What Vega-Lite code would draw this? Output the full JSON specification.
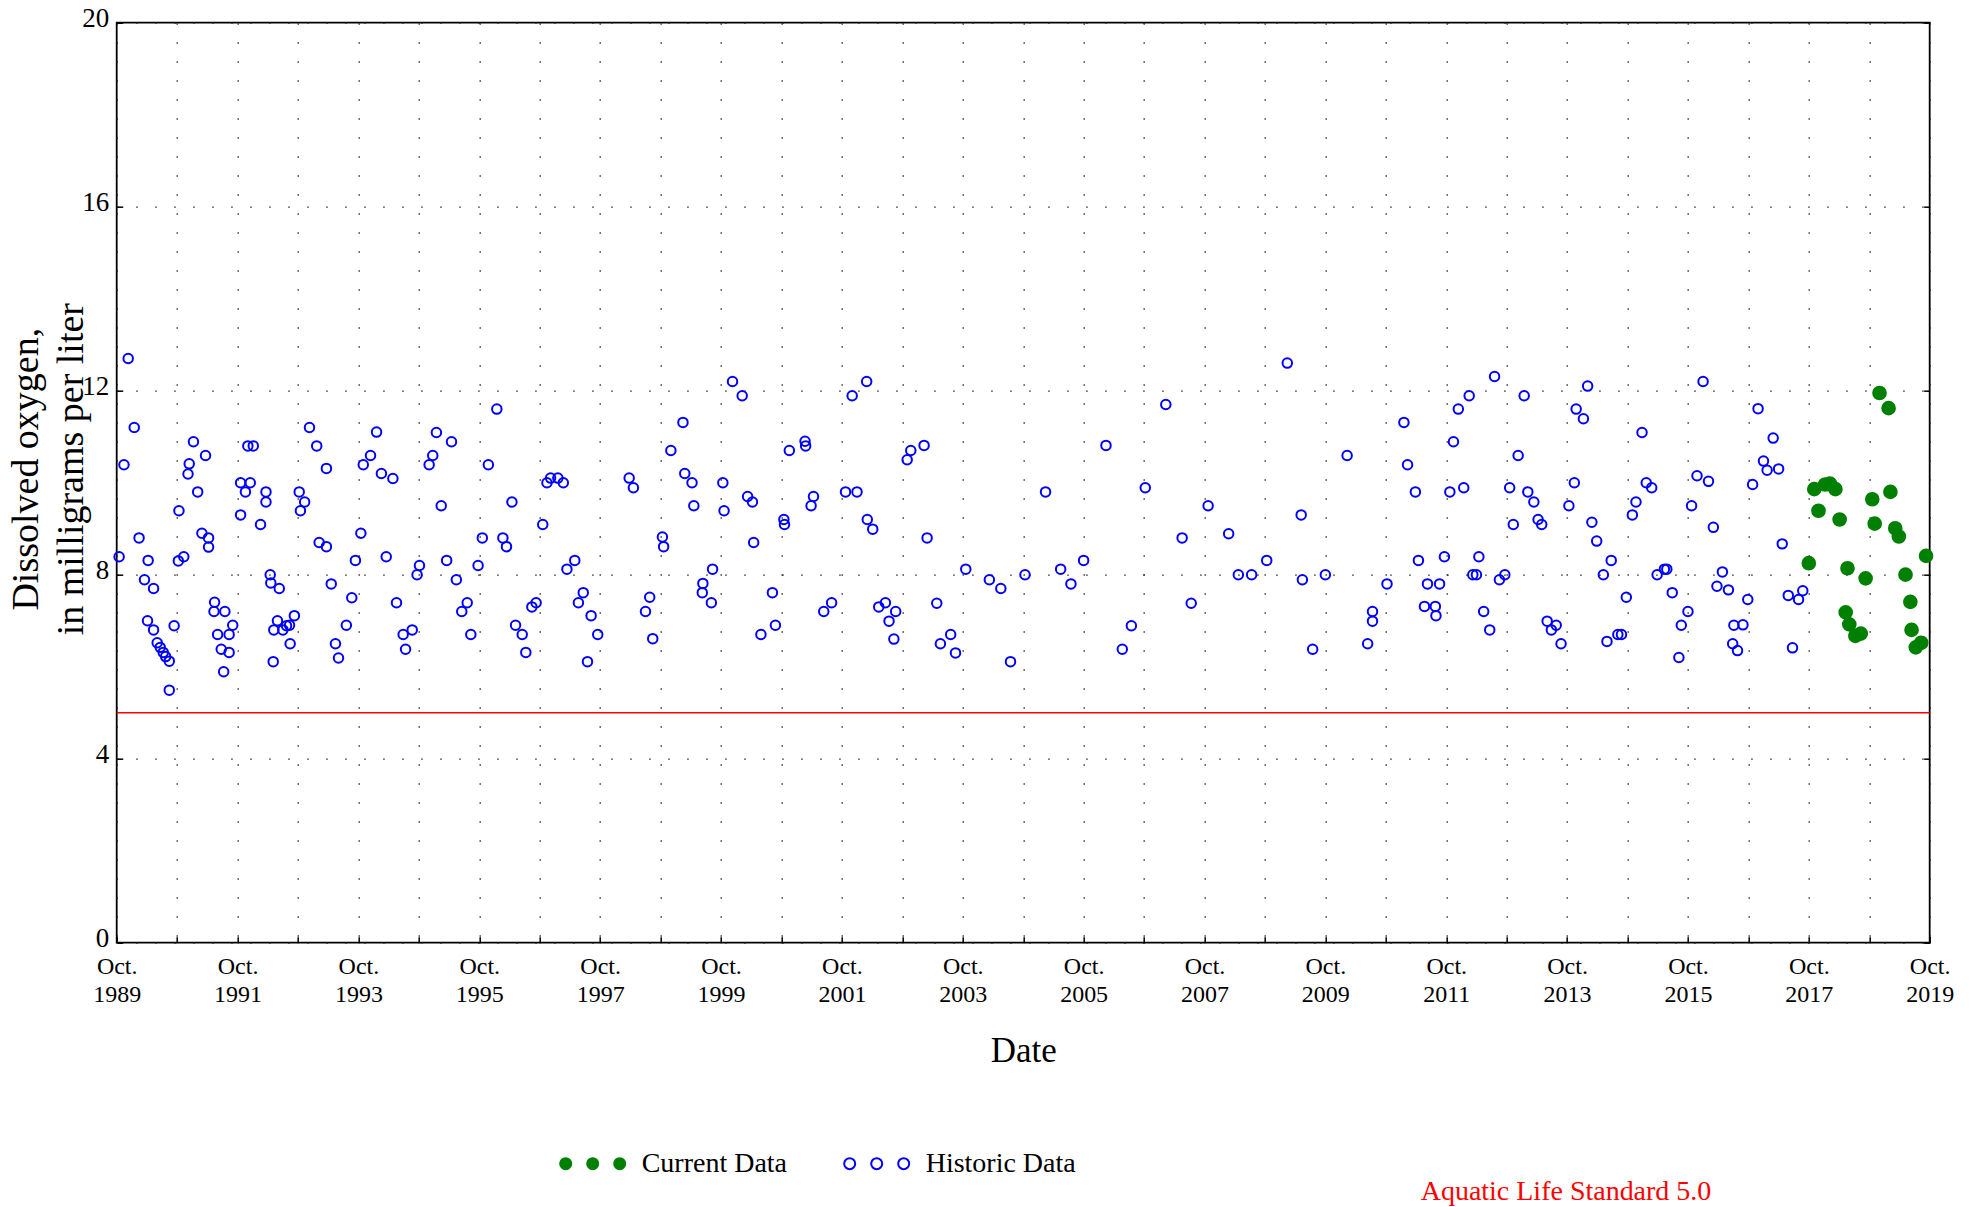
{
  "$schema": "https://vega.github.io/schema/vega-lite/v6.json",
  "width": 1813,
  "height": 920,
  "autosize": "none",
  "padding": {"left": 116.7, "top": 22.7, "right": 48, "bottom": 264},
  "background": "white",
  "config": {
    "font": "Liberation Serif",
    "view": {"stroke": "#000", "strokeWidth": 1.8},
    "axis": {"labelColor": "#000", "titleColor": "#000", "titleFontWeight": "normal", "tickColor": "#000", "tickWidth": 1.5, "gridColor": "#222", "gridWidth": 1.3, "gridOpacity": 1, "gridDash": [1.5, 17.5], "domain": false},
    "legend": {"labelColor": "#000"}
  },
  "datasets": {
    "obs": [
      {"year":1989.79,"oxygen":8.39,"series":"Historic Data"},
      {"year":1989.87,"oxygen":10.39,"series":"Historic Data"},
      {"year":1989.94,"oxygen":12.7,"series":"Historic Data"},
      {"year":1990.04,"oxygen":11.2,"series":"Historic Data"},
      {"year":1990.12,"oxygen":8.8,"series":"Historic Data"},
      {"year":1990.21,"oxygen":7.89,"series":"Historic Data"},
      {"year":1990.27,"oxygen":8.31,"series":"Historic Data"},
      {"year":1990.26,"oxygen":7.0,"series":"Historic Data"},
      {"year":1990.36,"oxygen":7.7,"series":"Historic Data"},
      {"year":1990.36,"oxygen":6.8,"series":"Historic Data"},
      {"year":1990.42,"oxygen":6.52,"series":"Historic Data"},
      {"year":1990.47,"oxygen":6.42,"series":"Historic Data"},
      {"year":1990.52,"oxygen":6.31,"series":"Historic Data"},
      {"year":1990.56,"oxygen":6.22,"series":"Historic Data"},
      {"year":1990.62,"oxygen":6.12,"series":"Historic Data"},
      {"year":1990.62,"oxygen":5.49,"series":"Historic Data"},
      {"year":1990.7,"oxygen":6.89,"series":"Historic Data"},
      {"year":1990.78,"oxygen":9.39,"series":"Historic Data"},
      {"year":1990.77,"oxygen":8.3,"series":"Historic Data"},
      {"year":1990.86,"oxygen":8.39,"series":"Historic Data"},
      {"year":1990.93,"oxygen":10.19,"series":"Historic Data"},
      {"year":1990.95,"oxygen":10.41,"series":"Historic Data"},
      {"year":1991.02,"oxygen":10.89,"series":"Historic Data"},
      {"year":1991.09,"oxygen":9.8,"series":"Historic Data"},
      {"year":1991.16,"oxygen":8.9,"series":"Historic Data"},
      {"year":1991.22,"oxygen":10.59,"series":"Historic Data"},
      {"year":1991.27,"oxygen":8.8,"series":"Historic Data"},
      {"year":1991.27,"oxygen":8.6,"series":"Historic Data"},
      {"year":1991.37,"oxygen":7.4,"series":"Historic Data"},
      {"year":1991.36,"oxygen":7.2,"series":"Historic Data"},
      {"year":1991.54,"oxygen":7.2,"series":"Historic Data"},
      {"year":1991.42,"oxygen":6.7,"series":"Historic Data"},
      {"year":1991.48,"oxygen":6.38,"series":"Historic Data"},
      {"year":1991.52,"oxygen":5.89,"series":"Historic Data"},
      {"year":1991.61,"oxygen":6.7,"series":"Historic Data"},
      {"year":1991.61,"oxygen":6.31,"series":"Historic Data"},
      {"year":1991.67,"oxygen":6.9,"series":"Historic Data"},
      {"year":1991.8,"oxygen":10.0,"series":"Historic Data"},
      {"year":1991.8,"oxygen":9.3,"series":"Historic Data"},
      {"year":1991.88,"oxygen":9.8,"series":"Historic Data"},
      {"year":1991.96,"oxygen":10.0,"series":"Historic Data"},
      {"year":1991.92,"oxygen":10.8,"series":"Historic Data"},
      {"year":1992.01,"oxygen":10.8,"series":"Historic Data"},
      {"year":1992.13,"oxygen":9.09,"series":"Historic Data"},
      {"year":1992.22,"oxygen":9.8,"series":"Historic Data"},
      {"year":1992.22,"oxygen":9.58,"series":"Historic Data"},
      {"year":1992.29,"oxygen":8.0,"series":"Historic Data"},
      {"year":1992.3,"oxygen":7.82,"series":"Historic Data"},
      {"year":1992.44,"oxygen":7.7,"series":"Historic Data"},
      {"year":1992.41,"oxygen":7.0,"series":"Historic Data"},
      {"year":1992.35,"oxygen":6.8,"series":"Historic Data"},
      {"year":1992.5,"oxygen":6.8,"series":"Historic Data"},
      {"year":1992.56,"oxygen":6.89,"series":"Historic Data"},
      {"year":1992.61,"oxygen":6.9,"series":"Historic Data"},
      {"year":1992.69,"oxygen":7.11,"series":"Historic Data"},
      {"year":1992.62,"oxygen":6.5,"series":"Historic Data"},
      {"year":1992.34,"oxygen":6.11,"series":"Historic Data"},
      {"year":1992.77,"oxygen":9.8,"series":"Historic Data"},
      {"year":1992.86,"oxygen":9.58,"series":"Historic Data"},
      {"year":1992.79,"oxygen":9.39,"series":"Historic Data"},
      {"year":1992.94,"oxygen":11.2,"series":"Historic Data"},
      {"year":1993.06,"oxygen":10.8,"series":"Historic Data"},
      {"year":1993.22,"oxygen":10.31,"series":"Historic Data"},
      {"year":1993.1,"oxygen":8.7,"series":"Historic Data"},
      {"year":1993.22,"oxygen":8.61,"series":"Historic Data"},
      {"year":1993.3,"oxygen":7.8,"series":"Historic Data"},
      {"year":1993.37,"oxygen":6.5,"series":"Historic Data"},
      {"year":1993.42,"oxygen":6.19,"series":"Historic Data"},
      {"year":1993.55,"oxygen":6.9,"series":"Historic Data"},
      {"year":1993.64,"oxygen":7.5,"series":"Historic Data"},
      {"year":1993.7,"oxygen":8.31,"series":"Historic Data"},
      {"year":1993.79,"oxygen":8.9,"series":"Historic Data"},
      {"year":1993.83,"oxygen":10.39,"series":"Historic Data"},
      {"year":1993.95,"oxygen":10.59,"series":"Historic Data"},
      {"year":1994.05,"oxygen":11.1,"series":"Historic Data"},
      {"year":1994.13,"oxygen":10.2,"series":"Historic Data"},
      {"year":1994.32,"oxygen":10.09,"series":"Historic Data"},
      {"year":1994.21,"oxygen":8.39,"series":"Historic Data"},
      {"year":1994.38,"oxygen":7.39,"series":"Historic Data"},
      {"year":1994.49,"oxygen":6.7,"series":"Historic Data"},
      {"year":1994.53,"oxygen":6.38,"series":"Historic Data"},
      {"year":1994.64,"oxygen":6.8,"series":"Historic Data"},
      {"year":1994.76,"oxygen":8.2,"series":"Historic Data"},
      {"year":1994.72,"oxygen":8.0,"series":"Historic Data"},
      {"year":1994.92,"oxygen":10.39,"series":"Historic Data"},
      {"year":1994.98,"oxygen":10.59,"series":"Historic Data"},
      {"year":1995.04,"oxygen":11.09,"series":"Historic Data"},
      {"year":1995.12,"oxygen":9.5,"series":"Historic Data"},
      {"year":1995.21,"oxygen":8.31,"series":"Historic Data"},
      {"year":1995.29,"oxygen":10.89,"series":"Historic Data"},
      {"year":1995.37,"oxygen":7.89,"series":"Historic Data"},
      {"year":1995.55,"oxygen":7.39,"series":"Historic Data"},
      {"year":1995.46,"oxygen":7.2,"series":"Historic Data"},
      {"year":1995.61,"oxygen":6.7,"series":"Historic Data"},
      {"year":1995.73,"oxygen":8.2,"series":"Historic Data"},
      {"year":1995.8,"oxygen":8.8,"series":"Historic Data"},
      {"year":1995.9,"oxygen":10.39,"series":"Historic Data"},
      {"year":1996.04,"oxygen":11.6,"series":"Historic Data"},
      {"year":1996.14,"oxygen":8.8,"series":"Historic Data"},
      {"year":1996.2,"oxygen":8.61,"series":"Historic Data"},
      {"year":1996.29,"oxygen":9.58,"series":"Historic Data"},
      {"year":1996.35,"oxygen":6.9,"series":"Historic Data"},
      {"year":1996.46,"oxygen":6.7,"series":"Historic Data"},
      {"year":1996.52,"oxygen":6.31,"series":"Historic Data"},
      {"year":1996.62,"oxygen":7.3,"series":"Historic Data"},
      {"year":1996.69,"oxygen":7.39,"series":"Historic Data"},
      {"year":1996.8,"oxygen":9.09,"series":"Historic Data"},
      {"year":1996.87,"oxygen":10.0,"series":"Historic Data"},
      {"year":1996.93,"oxygen":10.1,"series":"Historic Data"},
      {"year":1997.05,"oxygen":10.1,"series":"Historic Data"},
      {"year":1997.14,"oxygen":10.0,"series":"Historic Data"},
      {"year":1997.2,"oxygen":8.12,"series":"Historic Data"},
      {"year":1997.33,"oxygen":8.31,"series":"Historic Data"},
      {"year":1997.47,"oxygen":7.61,"series":"Historic Data"},
      {"year":1997.39,"oxygen":7.39,"series":"Historic Data"},
      {"year":1997.6,"oxygen":7.11,"series":"Historic Data"},
      {"year":1997.71,"oxygen":6.7,"series":"Historic Data"},
      {"year":1997.54,"oxygen":6.11,"series":"Historic Data"},
      {"year":1998.23,"oxygen":10.1,"series":"Historic Data"},
      {"year":1998.3,"oxygen":9.89,"series":"Historic Data"},
      {"year":1998.57,"oxygen":7.51,"series":"Historic Data"},
      {"year":1998.5,"oxygen":7.2,"series":"Historic Data"},
      {"year":1998.62,"oxygen":6.61,"series":"Historic Data"},
      {"year":1998.78,"oxygen":8.82,"series":"Historic Data"},
      {"year":1998.8,"oxygen":8.61,"series":"Historic Data"},
      {"year":1998.92,"oxygen":10.7,"series":"Historic Data"},
      {"year":1999.12,"oxygen":11.31,"series":"Historic Data"},
      {"year":1999.15,"oxygen":10.2,"series":"Historic Data"},
      {"year":1999.27,"oxygen":10.0,"series":"Historic Data"},
      {"year":1999.3,"oxygen":9.5,"series":"Historic Data"},
      {"year":1999.45,"oxygen":7.81,"series":"Historic Data"},
      {"year":1999.44,"oxygen":7.61,"series":"Historic Data"},
      {"year":1999.61,"oxygen":8.12,"series":"Historic Data"},
      {"year":1999.59,"oxygen":7.39,"series":"Historic Data"},
      {"year":1999.78,"oxygen":10.0,"series":"Historic Data"},
      {"year":1999.8,"oxygen":9.39,"series":"Historic Data"},
      {"year":1999.94,"oxygen":12.2,"series":"Historic Data"},
      {"year":2000.1,"oxygen":11.89,"series":"Historic Data"},
      {"year":2000.19,"oxygen":9.7,"series":"Historic Data"},
      {"year":2000.27,"oxygen":9.58,"series":"Historic Data"},
      {"year":2000.29,"oxygen":8.7,"series":"Historic Data"},
      {"year":2000.6,"oxygen":7.61,"series":"Historic Data"},
      {"year":2000.65,"oxygen":6.9,"series":"Historic Data"},
      {"year":2000.41,"oxygen":6.7,"series":"Historic Data"},
      {"year":2000.79,"oxygen":9.2,"series":"Historic Data"},
      {"year":2000.8,"oxygen":9.09,"series":"Historic Data"},
      {"year":2000.88,"oxygen":10.7,"series":"Historic Data"},
      {"year":2001.14,"oxygen":10.9,"series":"Historic Data"},
      {"year":2001.15,"oxygen":10.8,"series":"Historic Data"},
      {"year":2001.28,"oxygen":9.7,"series":"Historic Data"},
      {"year":2001.24,"oxygen":9.5,"series":"Historic Data"},
      {"year":2001.45,"oxygen":7.2,"series":"Historic Data"},
      {"year":2001.58,"oxygen":7.39,"series":"Historic Data"},
      {"year":2001.81,"oxygen":9.8,"series":"Historic Data"},
      {"year":2002.0,"oxygen":9.8,"series":"Historic Data"},
      {"year":2001.92,"oxygen":11.89,"series":"Historic Data"},
      {"year":2002.16,"oxygen":12.2,"series":"Historic Data"},
      {"year":2002.17,"oxygen":9.2,"series":"Historic Data"},
      {"year":2002.26,"oxygen":8.99,"series":"Historic Data"},
      {"year":2002.36,"oxygen":7.3,"series":"Historic Data"},
      {"year":2002.47,"oxygen":7.39,"series":"Historic Data"},
      {"year":2002.64,"oxygen":7.2,"series":"Historic Data"},
      {"year":2002.53,"oxygen":6.99,"series":"Historic Data"},
      {"year":2002.61,"oxygen":6.6,"series":"Historic Data"},
      {"year":2002.83,"oxygen":10.5,"series":"Historic Data"},
      {"year":2002.89,"oxygen":10.7,"series":"Historic Data"},
      {"year":2003.11,"oxygen":10.81,"series":"Historic Data"},
      {"year":2003.16,"oxygen":8.8,"series":"Historic Data"},
      {"year":2003.32,"oxygen":7.38,"series":"Historic Data"},
      {"year":2003.38,"oxygen":6.5,"series":"Historic Data"},
      {"year":2003.55,"oxygen":6.7,"series":"Historic Data"},
      {"year":2003.63,"oxygen":6.3,"series":"Historic Data"},
      {"year":2003.8,"oxygen":8.12,"series":"Historic Data"},
      {"year":2004.19,"oxygen":7.89,"series":"Historic Data"},
      {"year":2004.38,"oxygen":7.7,"series":"Historic Data"},
      {"year":2004.54,"oxygen":6.11,"series":"Historic Data"},
      {"year":2004.78,"oxygen":8.0,"series":"Historic Data"},
      {"year":2005.12,"oxygen":9.8,"series":"Historic Data"},
      {"year":2005.37,"oxygen":8.12,"series":"Historic Data"},
      {"year":2005.54,"oxygen":7.8,"series":"Historic Data"},
      {"year":2005.75,"oxygen":8.31,"series":"Historic Data"},
      {"year":2006.12,"oxygen":10.81,"series":"Historic Data"},
      {"year":2006.54,"oxygen":6.89,"series":"Historic Data"},
      {"year":2006.39,"oxygen":6.38,"series":"Historic Data"},
      {"year":2006.77,"oxygen":9.89,"series":"Historic Data"},
      {"year":2007.11,"oxygen":11.7,"series":"Historic Data"},
      {"year":2007.38,"oxygen":8.8,"series":"Historic Data"},
      {"year":2007.53,"oxygen":7.38,"series":"Historic Data"},
      {"year":2007.81,"oxygen":9.5,"series":"Historic Data"},
      {"year":2008.15,"oxygen":8.89,"series":"Historic Data"},
      {"year":2008.31,"oxygen":8.0,"series":"Historic Data"},
      {"year":2008.53,"oxygen":8.0,"series":"Historic Data"},
      {"year":2008.78,"oxygen":8.31,"series":"Historic Data"},
      {"year":2009.12,"oxygen":12.6,"series":"Historic Data"},
      {"year":2009.35,"oxygen":9.3,"series":"Historic Data"},
      {"year":2009.37,"oxygen":7.89,"series":"Historic Data"},
      {"year":2009.54,"oxygen":6.38,"series":"Historic Data"},
      {"year":2009.75,"oxygen":8.0,"series":"Historic Data"},
      {"year":2010.11,"oxygen":10.59,"series":"Historic Data"},
      {"year":2010.45,"oxygen":6.5,"series":"Historic Data"},
      {"year":2010.53,"oxygen":7.2,"series":"Historic Data"},
      {"year":2010.53,"oxygen":6.99,"series":"Historic Data"},
      {"year":2010.77,"oxygen":7.8,"series":"Historic Data"},
      {"year":2011.05,"oxygen":11.31,"series":"Historic Data"},
      {"year":2011.11,"oxygen":10.39,"series":"Historic Data"},
      {"year":2011.24,"oxygen":9.8,"series":"Historic Data"},
      {"year":2011.29,"oxygen":8.31,"series":"Historic Data"},
      {"year":2011.39,"oxygen":7.31,"series":"Historic Data"},
      {"year":2011.44,"oxygen":7.8,"series":"Historic Data"},
      {"year":2011.57,"oxygen":7.31,"series":"Historic Data"},
      {"year":2011.58,"oxygen":7.11,"series":"Historic Data"},
      {"year":2011.64,"oxygen":7.8,"series":"Historic Data"},
      {"year":2011.72,"oxygen":8.39,"series":"Historic Data"},
      {"year":2011.81,"oxygen":9.8,"series":"Historic Data"},
      {"year":2011.87,"oxygen":10.89,"series":"Historic Data"},
      {"year":2011.95,"oxygen":11.6,"series":"Historic Data"},
      {"year":2012.04,"oxygen":9.89,"series":"Historic Data"},
      {"year":2012.13,"oxygen":11.89,"series":"Historic Data"},
      {"year":2012.19,"oxygen":8.0,"series":"Historic Data"},
      {"year":2012.25,"oxygen":8.0,"series":"Historic Data"},
      {"year":2012.29,"oxygen":8.39,"series":"Historic Data"},
      {"year":2012.37,"oxygen":7.2,"series":"Historic Data"},
      {"year":2012.47,"oxygen":6.8,"series":"Historic Data"},
      {"year":2012.55,"oxygen":12.31,"series":"Historic Data"},
      {"year":2012.63,"oxygen":7.89,"series":"Historic Data"},
      {"year":2012.72,"oxygen":8.0,"series":"Historic Data"},
      {"year":2012.8,"oxygen":9.89,"series":"Historic Data"},
      {"year":2012.86,"oxygen":9.09,"series":"Historic Data"},
      {"year":2012.94,"oxygen":10.59,"series":"Historic Data"},
      {"year":2013.04,"oxygen":11.89,"series":"Historic Data"},
      {"year":2013.1,"oxygen":9.8,"series":"Historic Data"},
      {"year":2013.2,"oxygen":9.58,"series":"Historic Data"},
      {"year":2013.27,"oxygen":9.2,"series":"Historic Data"},
      {"year":2013.33,"oxygen":9.09,"series":"Historic Data"},
      {"year":2013.42,"oxygen":6.99,"series":"Historic Data"},
      {"year":2013.49,"oxygen":6.8,"series":"Historic Data"},
      {"year":2013.57,"oxygen":6.9,"series":"Historic Data"},
      {"year":2013.65,"oxygen":6.5,"series":"Historic Data"},
      {"year":2013.78,"oxygen":9.5,"series":"Historic Data"},
      {"year":2013.87,"oxygen":10.0,"series":"Historic Data"},
      {"year":2013.9,"oxygen":11.6,"series":"Historic Data"},
      {"year":2014.02,"oxygen":11.39,"series":"Historic Data"},
      {"year":2014.09,"oxygen":12.1,"series":"Historic Data"},
      {"year":2014.16,"oxygen":9.14,"series":"Historic Data"},
      {"year":2014.24,"oxygen":8.73,"series":"Historic Data"},
      {"year":2014.35,"oxygen":8.0,"series":"Historic Data"},
      {"year":2014.48,"oxygen":8.31,"series":"Historic Data"},
      {"year":2014.41,"oxygen":6.55,"series":"Historic Data"},
      {"year":2014.59,"oxygen":6.7,"series":"Historic Data"},
      {"year":2014.65,"oxygen":6.7,"series":"Historic Data"},
      {"year":2014.73,"oxygen":7.51,"series":"Historic Data"},
      {"year":2014.83,"oxygen":9.3,"series":"Historic Data"},
      {"year":2014.89,"oxygen":9.58,"series":"Historic Data"},
      {"year":2014.99,"oxygen":11.09,"series":"Historic Data"},
      {"year":2015.06,"oxygen":10.0,"series":"Historic Data"},
      {"year":2015.15,"oxygen":9.89,"series":"Historic Data"},
      {"year":2015.24,"oxygen":8.0,"series":"Historic Data"},
      {"year":2015.36,"oxygen":8.12,"series":"Historic Data"},
      {"year":2015.4,"oxygen":8.12,"series":"Historic Data"},
      {"year":2015.49,"oxygen":7.61,"series":"Historic Data"},
      {"year":2015.6,"oxygen":6.2,"series":"Historic Data"},
      {"year":2015.64,"oxygen":6.9,"series":"Historic Data"},
      {"year":2015.75,"oxygen":7.2,"series":"Historic Data"},
      {"year":2015.81,"oxygen":9.5,"series":"Historic Data"},
      {"year":2015.9,"oxygen":10.15,"series":"Historic Data"},
      {"year":2016.0,"oxygen":12.2,"series":"Historic Data"},
      {"year":2016.09,"oxygen":10.03,"series":"Historic Data"},
      {"year":2016.17,"oxygen":9.03,"series":"Historic Data"},
      {"year":2016.23,"oxygen":7.75,"series":"Historic Data"},
      {"year":2016.32,"oxygen":8.06,"series":"Historic Data"},
      {"year":2016.42,"oxygen":7.67,"series":"Historic Data"},
      {"year":2016.49,"oxygen":6.5,"series":"Historic Data"},
      {"year":2016.51,"oxygen":6.9,"series":"Historic Data"},
      {"year":2016.57,"oxygen":6.35,"series":"Historic Data"},
      {"year":2016.66,"oxygen":6.91,"series":"Historic Data"},
      {"year":2016.74,"oxygen":7.46,"series":"Historic Data"},
      {"year":2016.82,"oxygen":9.96,"series":"Historic Data"},
      {"year":2016.91,"oxygen":11.61,"series":"Historic Data"},
      {"year":2017.0,"oxygen":10.47,"series":"Historic Data"},
      {"year":2017.06,"oxygen":10.27,"series":"Historic Data"},
      {"year":2017.16,"oxygen":10.97,"series":"Historic Data"},
      {"year":2017.25,"oxygen":10.3,"series":"Historic Data"},
      {"year":2017.31,"oxygen":8.67,"series":"Historic Data"},
      {"year":2017.41,"oxygen":7.55,"series":"Historic Data"},
      {"year":2017.48,"oxygen":6.41,"series":"Historic Data"},
      {"year":2017.58,"oxygen":7.46,"series":"Historic Data"},
      {"year":2017.65,"oxygen":7.65,"series":"Historic Data"},
      {"year":2017.75,"oxygen":8.25,"series":"Current Data"},
      {"year":2017.84,"oxygen":9.86,"series":"Current Data"},
      {"year":2017.91,"oxygen":9.39,"series":"Current Data"},
      {"year":2018.02,"oxygen":9.96,"series":"Current Data"},
      {"year":2018.1,"oxygen":9.98,"series":"Current Data"},
      {"year":2018.19,"oxygen":9.86,"series":"Current Data"},
      {"year":2018.26,"oxygen":9.2,"series":"Current Data"},
      {"year":2018.36,"oxygen":7.18,"series":"Current Data"},
      {"year":2018.39,"oxygen":8.14,"series":"Current Data"},
      {"year":2018.42,"oxygen":6.92,"series":"Current Data"},
      {"year":2018.52,"oxygen":6.67,"series":"Current Data"},
      {"year":2018.61,"oxygen":6.72,"series":"Current Data"},
      {"year":2018.69,"oxygen":7.92,"series":"Current Data"},
      {"year":2018.8,"oxygen":9.64,"series":"Current Data"},
      {"year":2018.84,"oxygen":9.11,"series":"Current Data"},
      {"year":2018.92,"oxygen":11.95,"series":"Current Data"},
      {"year":2019.07,"oxygen":11.62,"series":"Current Data"},
      {"year":2019.1,"oxygen":9.8,"series":"Current Data"},
      {"year":2019.18,"oxygen":9.01,"series":"Current Data"},
      {"year":2019.24,"oxygen":8.83,"series":"Current Data"},
      {"year":2019.35,"oxygen":8.0,"series":"Current Data"},
      {"year":2019.43,"oxygen":7.41,"series":"Current Data"},
      {"year":2019.45,"oxygen":6.8,"series":"Current Data"},
      {"year":2019.52,"oxygen":6.42,"series":"Current Data"},
      {"year":2019.61,"oxygen":6.52,"series":"Current Data"},
      {"year":2019.69,"oxygen":8.41,"series":"Current Data"}
    ],
    "standard": [
      {"standard": 5.0, "label": "Aquatic Life Standard 5.0"}
    ]
  },
  "layer": [
    {
      "data": {"name": "obs"},
      "transform": [{"filter": {"field": "series", "equal": "Historic Data"}}],
      "mark": {"type": "point", "shape": "circle", "filled": false, "fill": "transparent", "strokeWidth": 2, "size": 90, "opacity": 1},
      "encoding": {
        "x": {
          "field": "year", "type": "quantitative",
          "scale": {"domain": [1989.75, 2019.75], "nice": false, "zero": false},
          "axis": {
            "title": "Date", "titleFontSize": 35, "titleBaseline": "alphabetic", "titleX": 906.5, "titleY": 119,
            "values": [1989.75,1990.75,1991.75,1992.75,1993.75,1994.75,1995.75,1996.75,1997.75,1998.75,1999.75,2000.75,2001.75,2002.75,2003.75,2004.75,2005.75,2006.75,2007.75,2008.75,2009.75,2010.75,2011.75,2012.75,2013.75,2014.75,2015.75,2016.75,2017.75,2018.75,2019.75],
            "labelExpr": "round(datum.value - 1989.75) % 2 == 0 ? ['Oct.', format(datum.value - 0.75, 'd')] : ''",
            "labelFontSize": 24, "labelLineHeight": 28, "labelPadding": 18, "labelBaseline": "top",
            "labelFlush": false, "labelOverlap": false,
            "tickSize": -6, "grid": true
          }
        },
        "y": {
          "field": "oxygen", "type": "quantitative",
          "scale": {"domain": [0, 20], "nice": false},
          "axis": {
            "title": ["Dissolved oxygen,", "in milligrams per liter"], "titleFontSize": 38, "titleLineHeight": 45,
            "titleBaseline": "bottom", "titleX": -71, "titleY": 446,
            "values": [0, 4, 8, 12, 16, 20],
            "labelFontSize": 27, "labelPadding": 14, "labelBaseline": "alphabetic", "labelOffset": 4,
            "labelFlush": false, "labelOverlap": false,
            "tickSize": -6, "grid": true
          }
        },
        "stroke": {
          "field": "series", "type": "nominal",
          "scale": {"domain": ["Historic Data"], "range": ["#0000ff"]},
          "legend": {
            "orient": "none", "legendX": 746, "legendY": 1127, "title": null,
            "labelFontSize": 28, "labelOffset": 35, "padding": 0, "labelLimit": 500,
            "symbolSize": 100, "symbolStrokeWidth": 2, "symbolOpacity": 1, "symbolFillColor": "transparent",
            "symbolType": "M-6.5,0a1.1,1.1 0 1,0 2.2,0a1.1,1.1 0 1,0 -2.2,0M-1.1,0a1.1,1.1 0 1,0 2.2,0a1.1,1.1 0 1,0 -2.2,0M4.3,0a1.1,1.1 0 1,0 2.2,0a1.1,1.1 0 1,0 -2.2,0"
          }
        }
      }
    },
    {
      "data": {"name": "obs"},
      "transform": [{"filter": {"field": "series", "equal": "Current Data"}}],
      "mark": {"type": "point", "shape": "circle", "filled": true, "fill": "#008000", "strokeWidth": 2, "size": 160, "opacity": 1},
      "encoding": {
        "x": {
          "field": "year", "type": "quantitative",
          "scale": {"domain": [1989.75, 2019.75], "nice": false, "zero": false},
          "axis": {
            "title": "Date", "titleFontSize": 35, "titleBaseline": "alphabetic", "titleX": 906.5, "titleY": 119,
            "values": [1989.75,1990.75,1991.75,1992.75,1993.75,1994.75,1995.75,1996.75,1997.75,1998.75,1999.75,2000.75,2001.75,2002.75,2003.75,2004.75,2005.75,2006.75,2007.75,2008.75,2009.75,2010.75,2011.75,2012.75,2013.75,2014.75,2015.75,2016.75,2017.75,2018.75,2019.75],
            "labelExpr": "round(datum.value - 1989.75) % 2 == 0 ? ['Oct.', format(datum.value - 0.75, 'd')] : ''",
            "labelFontSize": 24, "labelLineHeight": 28, "labelPadding": 18, "labelBaseline": "top",
            "labelFlush": false, "labelOverlap": false,
            "tickSize": -6, "grid": true
          }
        },
        "y": {"field": "oxygen", "type": "quantitative", "axis": null},
        "stroke": {
          "field": "series", "type": "nominal",
          "scale": {"domain": ["Current Data"], "range": ["#008000"]},
          "legend": {
            "orient": "none", "legendX": 462, "legendY": 1127, "title": null,
            "labelFontSize": 28, "labelOffset": 35, "padding": 0, "labelLimit": 500,
            "symbolSize": 100, "symbolStrokeWidth": 2, "symbolOpacity": 1, "symbolFillColor": "#008000",
            "symbolType": "M-6.5,0a1.1,1.1 0 1,0 2.2,0a1.1,1.1 0 1,0 -2.2,0M-1.1,0a1.1,1.1 0 1,0 2.2,0a1.1,1.1 0 1,0 -2.2,0M4.3,0a1.1,1.1 0 1,0 2.2,0a1.1,1.1 0 1,0 -2.2,0"
          }
        }
      }
    },
    {
      "data": {"name": "standard"},
      "mark": {"type": "rule", "strokeWidth": 1.5},
      "encoding": {
        "y": {
          "field": "standard", "type": "quantitative",
          "axis": {"orient": "right", "labels": false, "title": null, "grid": false, "tickSize": -6, "values": [0, 4, 8, 12, 16, 20]}
        },
        "stroke": {
          "field": "label", "type": "nominal",
          "scale": {"range": ["#ff0000"]},
          "legend": {
            "orient": "none", "legendX": 1276, "legendY": 1155, "title": null,
            "labelFontSize": 28, "labelColor": "#ff0000", "labelOffset": 0, "padding": 0, "labelLimit": 600,
            "symbolSize": 0, "symbolOpacity": 0, "symbolStrokeWidth": 0
          }
        }
      }
    }
  ],
  "resolve": {"scale": {"stroke": "independent"}, "axis": {"y": "independent"}}
}
